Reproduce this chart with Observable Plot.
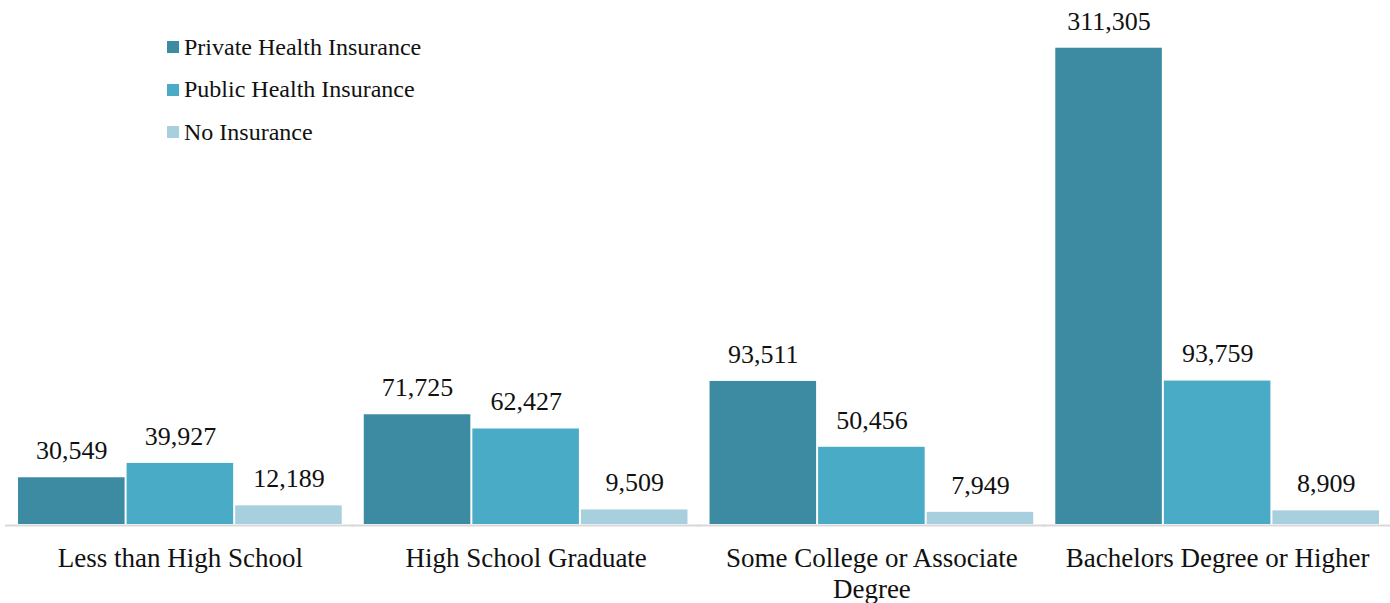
<!DOCTYPE html>
<html>
<head>
<meta charset="utf-8">
<script src="https://cdn.jsdelivr.net/npm/d3@7"></script>
<script src="https://cdn.jsdelivr.net/npm/@observablehq/plot@0.6"></script>
<style>
  html, body { margin: 0; padding: 0; background: #fff; }
  #wrap { position: relative; width: 1390px; height: 603px; font-family: "Liberation Serif", "Times New Roman", Times, serif; }
  #legend { position: absolute; left: 167px; top: 26px; display: flex; flex-direction: column; gap: 0; }
  .item { display: flex; align-items: center; height: 42.5px; font-size: 24px; color: #111; }
  .sw { width: 12px; height: 12px; margin-right: 5px; }
</style>
</head>
<body>
<div id="wrap"></div>
<script>
const categories = ["Less than High School", "High School Graduate", "Some College or Associate Degree", "Bachelors Degree or Higher"];
const seriesNames = ["Private Health Insurance", "Public Health Insurance", "No Insurance"];
const seriesColors = ["#3d8ba3", "#4aabc6", "#a8cfdd"];
const privateValues = [30549, 71725, 93511, 311305];
const publicValues = [39927, 62427, 50456, 93759];
const noInsuranceValues = [12189, 9509, 7949, 8909];

const allValues = [privateValues, publicValues, noInsuranceValues];
const data = [];
categories.forEach((c, i) => {
  seriesNames.forEach((s, j) => data.push({category: c, series: s, value: allValues[j][i]}));
});

const wrapLabel = d => d === "Some College or Associate Degree" ? "Some College or Associate\nDegree" : d;

const chart = Plot.plot({
  width: 1390,
  height: 603,
  marginTop: 0,
  marginBottom: 79,
  marginLeft: 7,
  marginRight: 0,
  style: {fontFamily: "'Liberation Serif', 'Times New Roman', Times, serif", fontSize: "27px", color: "#111", background: "#fff"},
  fx: {domain: categories, paddingInner: 0.058, paddingOuter: 0.029, round: false, label: null},
  x: {domain: seriesNames, padding: 0, round: false, axis: null},
  y: {domain: [0, 342500], axis: null},
  color: {domain: seriesNames, range: seriesColors},
  marks: [
    Plot.ruleY([0], {stroke: "#d9d9d9", strokeWidth: 2, dy: 1, insetLeft: -12, insetRight: -12}),
    Plot.barY(data, {fx: "category", x: "series", y: "value", fill: "series", insetLeft: 1, insetRight: 1}),
    Plot.text(data, {fx: "category", x: "series", y: "value", text: d => d3.format(",")(d.value), dy: -27, fontSize: 26, fill: "#111"}),
    Plot.axisFx({anchor: "bottom", tickSize: 0, tickPadding: 20, fontSize: 27, tickFormat: wrapLabel, label: null, lineHeight: 1.15})
  ]
});
document.getElementById("wrap").appendChild(chart);

const legend = document.createElement("div");
legend.id = "legend";
seriesNames.forEach((s, j) => {
  const it = document.createElement("div");
  it.className = "item";
  const sw = document.createElement("span");
  sw.className = "sw";
  sw.style.background = seriesColors[j];
  it.appendChild(sw);
  it.appendChild(document.createTextNode(s));
  legend.appendChild(it);
});
document.getElementById("wrap").appendChild(legend);
</script>
</body>
</html>
